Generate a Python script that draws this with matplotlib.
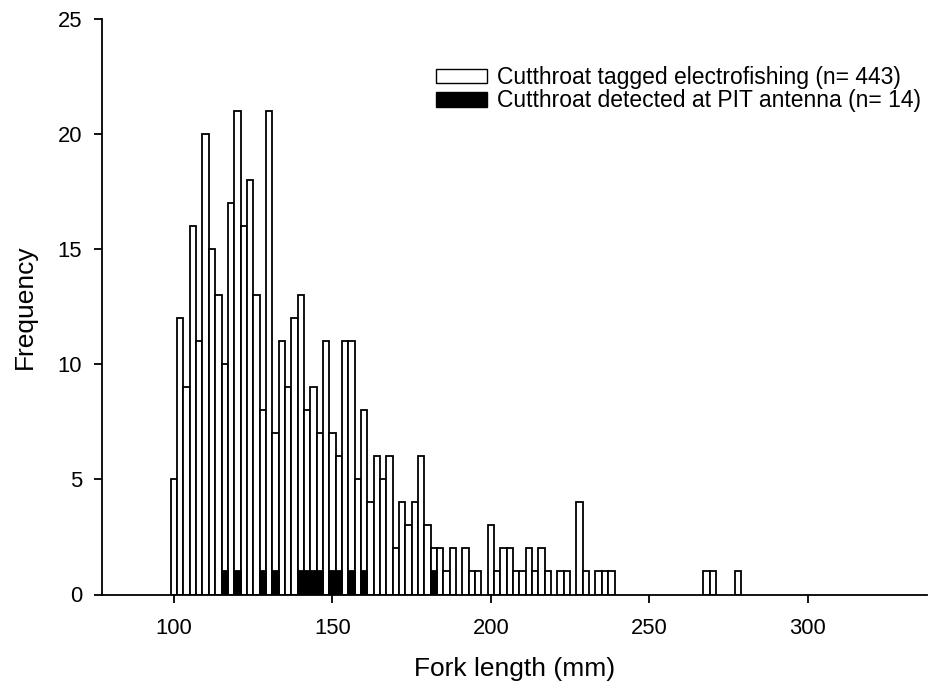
import numpy as np
import matplotlib
matplotlib.use('Agg')
import matplotlib.pyplot as plt
from matplotlib.patches import Patch

plt.rcParams['font.family'] = ['Liberation Sans', 'DejaVu Sans']

# 2 mm length classes, first class starts at 99 mm
bin_start = 99
bin_width = 2

# fish tagged while electrofishing, one count per class
tagged = [5, 12, 9, 16, 11, 20, 15, 13, 10, 17, 21, 16, 18, 13, 8, 21, 7, 11, 9, 12,
          13, 8, 9, 7, 11, 7, 6, 11, 11, 5, 8, 4, 6, 5, 6, 2, 4, 3, 4, 6,
          3, 2, 2, 1, 2, 0, 2, 1, 1, 0, 3, 1, 2, 2, 1, 1, 2, 1, 2, 1,
          0, 1, 1, 0, 4, 1, 0, 1, 1, 1, 0, 0, 0, 0, 0, 0, 0, 0, 0, 0,
          0, 0, 0, 0, 1, 1, 0, 0, 0, 1]

# fish later picked up at the PIT antenna
detected = [0, 0, 0, 0, 0, 0, 0, 0, 1, 0, 1, 0, 0, 0, 1, 0, 1, 0, 0, 0,
            1, 1, 1, 1, 0, 1, 1, 0, 1, 0, 1, 0, 0, 0, 0, 0, 0, 0, 0, 0,
            0, 1, 0, 0, 0, 0, 0, 0, 0, 0, 0, 0, 0, 0, 0, 0, 0, 0, 0, 0,
            0, 0, 0, 0, 0, 0, 0, 0, 0, 0, 0, 0, 0, 0, 0, 0, 0, 0, 0, 0,
            0, 0, 0, 0, 0, 0, 0, 0, 0, 0]

labels = ['Cutthroat tagged electrofishing (n= 443)',
          'Cutthroat detected at PIT antenna (n= 14)']

tagged = np.array(tagged)
detected = np.array(detected)
lefts = bin_start + bin_width * np.arange(len(tagged))

fig = plt.figure(figsize=(9.29, 6.96), dpi=100)
ax = fig.add_axes([101.7 / 929, 101.5 / 696, (927 - 101.7) / 929, (677 - 101.5) / 696])

m = tagged > 0
ax.bar(lefts[m], tagged[m], width=bin_width, align='edge', color='white',
       edgecolor='black', linewidth=1.3, zorder=2)
m = detected > 0
ax.bar(lefts[m], detected[m], width=bin_width, align='edge', color='black',
       edgecolor='black', linewidth=1.3, zorder=3)

ax.set_xlim(77.2, 337.6)
ax.set_ylim(0, 25)
ax.set_xticks([100, 150, 200, 250, 300])
ax.set_yticks([0, 5, 10, 15, 20, 25])
ax.spines['top'].set_visible(False)
ax.spines['right'].set_visible(False)
for s in ['left', 'bottom']:
    ax.spines[s].set_linewidth(1.3)
ax.tick_params(direction='out', length=6, width=1.3, labelsize=15.8)
ax.tick_params(axis='x', pad=11)
ax.tick_params(axis='y', pad=8)

ax.set_xlabel('Fork length (mm)', fontsize=19, labelpad=13)
ax.set_ylabel('Frequency', fontsize=19, labelpad=15)

handles = [Patch(facecolor='white', edgecolor='black', linewidth=1.0),
           Patch(facecolor='black', edgecolor='black', linewidth=1.0)]
ax.legend(handles, labels, loc='upper right', frameon=False, fontsize=16.5,
          handlelength=2.25, handleheight=0.6, handletextpad=0.42,
          labelspacing=0.02, borderpad=0, borderaxespad=0,
          bbox_to_anchor=(921 / 929, (696 - 66) / 696),
          bbox_transform=fig.transFigure)

fig.savefig('out.png', dpi=100)
